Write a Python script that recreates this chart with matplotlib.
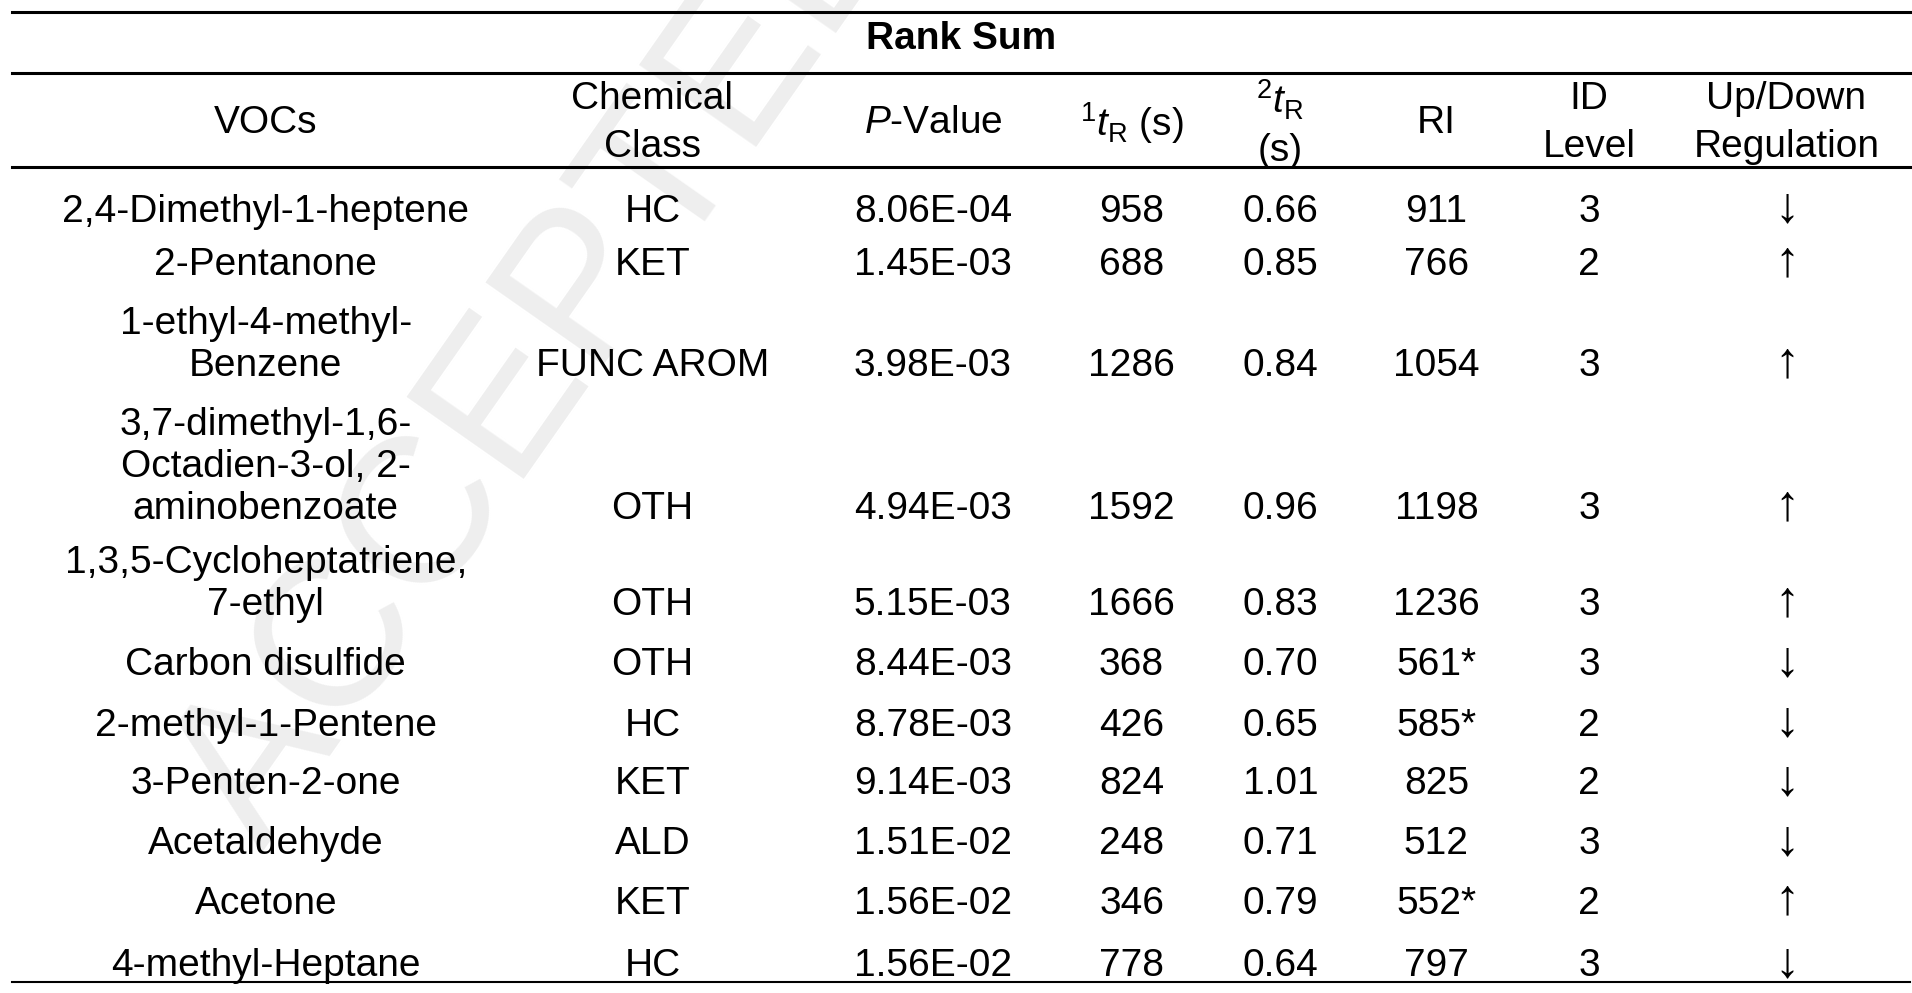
import matplotlib
matplotlib.use("Agg")
import matplotlib.pyplot as plt

plt.rcParams['font.family'] = ['Liberation Sans', 'DejaVu Sans']
plt.rcParams['mathtext.fontset'] = 'custom'
plt.rcParams['mathtext.rm'] = 'Liberation Sans'
plt.rcParams['mathtext.it'] = 'Liberation Sans:italic'

title = "Rank Sum"
headers = ["VOCs", "Chemical\nClass", "$\\mathit{P}$-Value", "$^{1}t_{\\mathrm{R}}$ (s)",
           "$^{2}t_{\\mathrm{R}}$\n(s)", "RI", "ID\nLevel", "Up/Down\nRegulation"]
vocs = ["2,4-Dimethyl-1-heptene", "2-Pentanone", "1-ethyl-4-methyl-\nBenzene",
        "3,7-dimethyl-1,6-\nOctadien-3-ol, 2-\naminobenzoate", "1,3,5-Cycloheptatriene,\n7-ethyl",
        "Carbon disulfide", "2-methyl-1-Pentene", "3-Penten-2-one", "Acetaldehyde",
        "Acetone", "4-methyl-Heptane"]
chem_class = ["HC", "KET", "FUNC AROM", "OTH", "OTH", "OTH", "HC", "KET", "ALD", "KET", "HC"]
p_value = ["8.06E-04", "1.45E-03", "3.98E-03", "4.94E-03", "5.15E-03", "8.44E-03",
           "8.78E-03", "9.14E-03", "1.51E-02", "1.56E-02", "1.56E-02"]
t1 = ["958", "688", "1286", "1592", "1666", "368", "426", "824", "248", "346", "778"]
t2 = ["0.66", "0.85", "0.84", "0.96", "0.83", "0.70", "0.65", "1.01", "0.71", "0.79", "0.64"]
ri = ["911", "766", "1054", "1198", "1236", "561*", "585*", "825", "512", "552*", "797"]
id_level = ["3", "2", "3", "3", "3", "3", "2", "2", "3", "2", "3"]
regulation = ["↓", "↑", "↑", "↑", "↑", "↓", "↓", "↓", "↓", "↑", "↓"]

W, H = 1568.0, 815.0
fig = plt.figure(figsize=(19.12, 9.93), dpi=100)
fx = lambda x: x / W
fy = lambda y: 1 - y / H

# watermark
fig.text(fx(215), fy(700), "ACCEPTED MANUSCRIPT", fontsize=150, color='#eeeeee',
         rotation=55, rotation_mode='anchor', ha='left', va='baseline', zorder=0)

for y, lw in [(10, 2.2), (60, 2.2), (137, 2.2), (806, 1.5)]:
    fig.add_artist(plt.Line2D([fx(10), fx(1566)], [fy(y), fy(y)], color='black', lw=lw))

fs = 28
fig.text(fx(788), fy(32), title, fontsize=fs, fontweight='bold', ha='center', va='center')
xs = [218, 535, 765, 928, 1050, 1178, 1303, 1465]
for x, h in zip(xs, headers):
    fig.text(fx(x), fy(101), h, fontsize=fs, ha='center', va='center', linespacing=1.4)

row_base = [171, 215, 298, 415, 494, 543, 593, 641, 690, 739, 790]
cols = [chem_class, p_value, t1, t2, ri, id_level, regulation]
for i, yb in enumerate(row_base):
    fig.text(fx(xs[0]), fy(yb + 11), vocs[i], fontsize=fs, ha='center', va='baseline',
             linespacing=1.22)
    for j, (x, col) in enumerate(zip(xs[1:], cols)):
        size = 36 if j == len(cols) - 1 else fs
        fig.text(fx(x), fy(yb + 11), col[i], fontsize=size, ha='center', va='baseline')

fig.savefig("out.png", dpi=100)
